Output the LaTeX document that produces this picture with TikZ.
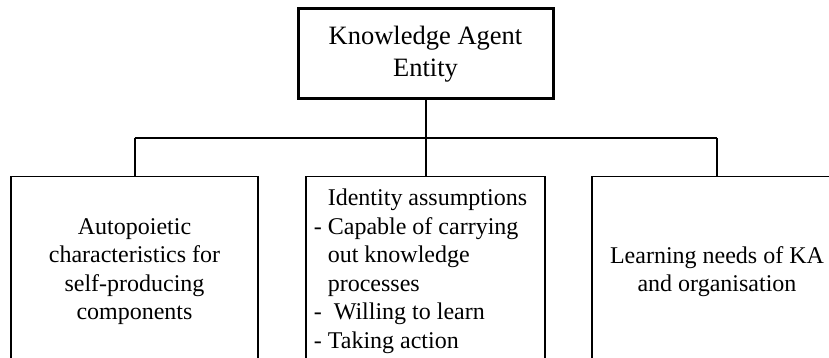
\documentclass[tikz,border=0pt]{standalone}
\usepackage{fontspec}
\setmainfont{Liberation Serif}
\usetikzlibrary{positioning, calc}
\tikzset{
  every picture/.style={x=1pt, y=-1pt},
  headbox/.style={draw, line width=3pt, align=center, minimum width=255pt, minimum height=90pt, inner sep=4pt, font=\fontsize{26.5}{31.5}\selectfont},
  partbox/.style={draw, line width=1.5pt, align=center, minimum height=190pt, inner sep=4pt, font=\fontsize{24}{28.5}\selectfont},
  link/.style={line width=2pt},
}

\begin{document}
\begin{tikzpicture}
  \useasboundingbox (0,0) rectangle (829,358);
  % head entity
  \node[headbox] (ka) at (425.5,54) {Knowledge Agent\\Entity};
  % three parts
  \node[partbox, minimum width=247pt] (auto) at (134.5,271.5) {Autopoietic\\characteristics for\\self-producing\\components};
  \node[partbox, minimum width=239pt] (ident) at (425.5,271.5) {\begin{tabular}{@{}l@{}}
    \phantom{-\ }Identity assumptions\\
    -\ Capable of carrying\\
    \phantom{-\ }out knowledge\\
    \phantom{-\ }processes\\
    -\ \ Willing to learn\\
    -\ Taking action
  \end{tabular}\hspace*{10pt}};
  \node[partbox, minimum width=250pt] (learn) at (717,271.5) {Learning needs of KA\\and organisation};
  % tree connectors
  \coordinate (hub) at (425.5,138);
  \draw[link] (ka) -- (hub);
  \draw[link] (hub -| auto) -- (hub -| learn);
  \foreach \n in {auto,ident,learn} \draw[link] (hub -| \n) -- (\n);
\end{tikzpicture}
\end{document}
